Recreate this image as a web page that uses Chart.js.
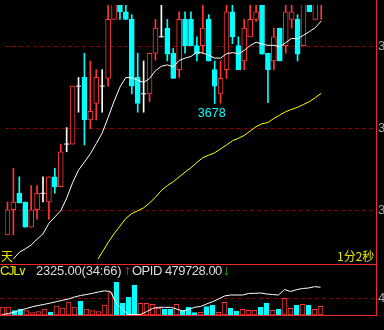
<!DOCTYPE html>
<html><head><meta charset="utf-8">
<script src="https://cdn.jsdelivr.net/npm/chart.js@4/dist/chart.umd.min.js"></script>
<style>
html,body{margin:0;padding:0;background:#000;width:384px;height:330px;overflow:hidden}
body{position:relative}
#main{position:absolute;left:0;top:0;width:384px;height:264px}
#vol{position:absolute;left:0;top:264px;width:384px;height:52px}
.t{position:absolute;white-space:nowrap;font-family:"Liberation Sans",Arial,sans-serif;font-size:13px;line-height:14px}
.cjk{font-family:"Noto Sans CJK SC",sans-serif;font-size:12px;line-height:12px;color:#e6e600}
</style></head><body>
<div id="main"><canvas id="c1"></canvas></div>
<div id="vol"><canvas id="c2"></canvas></div>
<span class="t cjk" style="left:1px;top:250px">天</span>
<span class="t cjk" style="left:337px;top:250px">1分2秒</span>
<span class="t" style="left:0px;top:264px;color:#e6e600;letter-spacing:-1.3px">CJL</span>
<span class="t" style="left:18px;top:264px;color:#e6e600;font-family:'DejaVu Sans';font-size:12px">∨</span>
<span class="t" id="cjlv" style="left:36px;top:264px;color:#dcdcdc;letter-spacing:-0.2px"></span>
<span class="t" style="left:124px;top:263px;color:#ff3030;font-size:14px">↑</span>
<span class="t" id="opidv" style="left:132px;top:264px;color:#dcdcdc;letter-spacing:-0.5px"></span>
<span class="t" style="left:223px;top:263px;color:#20c020;font-size:14px">↓</span>
<script>
// ---- data ----
const minutes = [1,2,3,4,5,6,7,8,9,10,11,12,13,14,15,16,17,18,19,20,21,22,23,24,25,26,27,
28,29,30,31,32,33,34,35,36,37,38,39,40,41,42,43,44,45,46,47,48,49,50,51,52,53,54];
const opens = [3662.00,3665.06,3667.06,3666.00,3662.94,3665.06,3667.06,3666.00,3669.06,3667.88,
3673.06,3673.06,3680.12,3681.18,3676.00,3678.00,3680.12,3681.06,3688.24,3691.41,
3689.18,3688.24,3681.18,3679.18,3679.18,3684.12,3686.12,3687.18,3684.12,3682.12,
3688.24,3688.24,3685.06,3685.06,3688.24,3682.12,3679.18,3682.12,3689.18,3685.06,
3683.18,3686.12,3688.24,3690.59,3684.12,3683.18,3687.18,3685.06,3688.24,3688.24,
3685.06,3690.59,3688.24,3690.35];
const closes = [3665.06,3666.00,3665.88,3662.94,3665.06,3667.06,3667.06,3669.06,3667.88,3672.12,
3673.06,3680.12,3680.12,3676.00,3677.06,3681.18,3680.12,3688.24,3691.18,3689.18,
3688.24,3680.12,3678.00,3679.18,3684.12,3687.18,3686.12,3684.00,3681.06,3688.24,
3685.06,3685.06,3684.00,3687.18,3683.18,3680.12,3681.06,3689.18,3686.12,3682.12,
3687.18,3688.24,3689.18,3684.00,3682.12,3686.12,3683.18,3689.18,3689.18,3684.00,
3690.59,3689.18,3690.59,3691.41];
const highs = [3666.00,3670.12,3669.06,3666.00,3668.00,3668.00,3669.06,3669.06,3670.12,3673.06,
3675.06,3680.12,3681.18,3684.12,3683.18,3682.12,3682.12,3690.59,3691.76,3691.76,
3690.35,3688.82,3684.12,3683.18,3684.12,3688.24,3690.35,3688.24,3684.71,3689.18,
3689.18,3689.18,3686.12,3690.24,3688.82,3683.18,3683.18,3690.35,3690.35,3686.12,
3688.24,3690.24,3690.35,3690.94,3684.12,3687.18,3687.18,3690.35,3690.35,3688.82,
3690.94,3690.94,3690.94,3691.76];
const lows = [3662.00,3662.00,3665.88,3662.94,3662.94,3663.88,3666.00,3663.88,3667.06,3667.88,
3672.12,3673.06,3676.94,3672.94,3674.94,3676.00,3676.94,3680.12,3688.24,3688.24,
3688.24,3679.18,3676.94,3676.94,3678.24,3683.29,3686.12,3683.18,3681.06,3681.18,
3684.12,3685.06,3683.18,3684.12,3683.18,3678.00,3678.05,3681.06,3685.29,3682.12,
3682.12,3686.12,3688.00,3684.00,3678.10,3682.12,3683.18,3684.12,3687.18,3683.18,
3685.06,3689.18,3688.24,3688.24];
const maShort = [3658.00,3659.06,3659.88,3660.29,3660.76,3661.47,3662.12,3663.41,3664.18,3664.94,
3666.47,3668.35,3669.88,3670.86,3671.88,3673.12,3674.41,3676.29,3678.24,3680.00,
3681.18,3681.12,3680.85,3680.55,3681.06,3682.00,3682.53,3682.71,3682.47,3683.24,
3683.53,3683.73,3684.26,3684.14,3683.88,3683.53,3683.53,3684.06,3684.20,3684.06,
3684.47,3685.06,3685.47,3685.24,3685.09,3685.09,3684.91,3685.41,3685.94,3685.88,
3686.32,3686.76,3687.24,3688.06];
const maLong = [null,null,null,null,null,null,null,null,null,null,null,null,null,null,null,
3658.71,3659.88,3661.06,3662.12,3663.06,3664.00,3664.59,3664.94,3665.29,3665.88,
3666.59,3667.41,3668.00,3668.47,3669.06,3669.65,3670.18,3670.82,3671.41,3671.71,
3672.00,3672.47,3672.94,3673.47,3673.76,3674.12,3674.65,3675.18,3675.53,3675.68,
3676.18,3676.59,3677.00,3677.29,3677.53,3677.88,3678.24,3678.71,3679.24];
const volumes = [2160,2160,1160,1620,1160,620,890,1620,810,2430,
1890,3510,2160,3780,1620,1160,890,2700,6020,8830,
3160,4780,8100,3160,3160,2890,1810,1540,1540,2890,
1160,2080,620,730,2240,2700,730,3430,1810,1080,
1540,1270,1270,2080,3240,1270,1540,4510,1810,2620,
2890,2620,1540,2325];
const opid = [450535,451605,453210,455350,456955,458881,460165,461449,462840,464231,
465729,467120,469260,470865,471935,473219,474610,475894,475145,462305,
455885,450535,450321,450535,453531,456955,458239,458239,458239,456420,
454280,455885,458239,459095,461770,464231,467120,470330,471400,471400,
471400,473005,473219,473540,472470,471935,471400,477285,475145,477071,
478355,478890,480281,479728];
const priceTicks = [3665, 3675, 3685];
const volTicks = [4590];
const lowMarkIndex = 35;
const cjlRatio = '(34:66)';

// ---- styles ----
const RED = '#ff3636', CYAN = '#00ffff', WHITE = '#ffffff', YELLOW = '#ffff00';
const BORDER = '#f02828', GRID = '#880000', LABEL = '#a8a8a8';
const SLOT = 6;
const xMin = -2.5 / SLOT, xMax = xMin + 376 / SLOT;
const pxPerPt = 8.5, yMax = 3690, yMin = yMax - 263 / pxPerPt;

const up = i => closes[i] > opens[i];
const doji = i => closes[i] === opens[i];
const cColor = i => doji(i) ? WHITE : (up(i) ? RED : CYAN);

document.getElementById('cjlv').textContent = volumes[volumes.length-1].toFixed(2) + cjlRatio;
document.getElementById('opidv').textContent = 'OPID ' + opid[opid.length-1].toFixed(2);

const bodyIdx = minutes.map((m,i)=>i).filter(i=>!doji(i));
const dojiIdx = minutes.map((m,i)=>i).filter(i=>doji(i));

const mainDeco = {
  id: 'mainDeco',
  beforeDatasetsDraw(chart) {
    const {ctx, chartArea: a, scales: {y}} = chart;
    ctx.save();
    ctx.strokeStyle = GRID; ctx.lineWidth = 1; ctx.setLineDash([4, 3]);
    priceTicks.forEach(v => {
      const py = Math.floor(y.getPixelForValue(v)) + 0.5;
      ctx.beginPath(); ctx.moveTo(a.left, py); ctx.lineTo(a.right, py); ctx.stroke();
    });
    ctx.restore();
  },
  afterDraw(chart) {
    const {ctx, chartArea: a, scales: {x, y}} = chart;
    ctx.save();
    ctx.strokeStyle = BORDER; ctx.lineWidth = 1;
    ctx.beginPath(); ctx.moveTo(a.right + 0.5, 0); ctx.lineTo(a.right + 0.5, chart.height); ctx.stroke();
    ctx.fillStyle = LABEL; ctx.font = '13px "Liberation Sans"';
    ctx.textAlign = 'left'; ctx.textBaseline = 'middle';
    priceTicks.forEach(v => ctx.fillText(String(v), a.right + 2, y.getPixelForValue(v)));
    const px = x.getPixelForValue(lowMarkIndex), py = y.getPixelForValue(lows[lowMarkIndex]);
    ctx.fillStyle = CYAN; ctx.font = '12.5px "Liberation Sans"';
    ctx.textAlign = 'center'; ctx.textBaseline = 'top';
    ctx.fillText(String(Math.round(lows[lowMarkIndex])), px - 3, py + 4);
    ctx.restore();
  }
};

new Chart(document.getElementById('c1'), {
  type: 'bar',
  data: {
    datasets: [
      { type: 'line', label: 'MA short', data: maShort.map((v,i)=>({x:i, y:v})),
        borderColor: WHITE, borderWidth: 1, pointRadius: 0, tension: 0, order: 0 },
      { type: 'line', label: 'MA long', data: maLong.map((v,i)=>({x:i, y:v})),
        borderColor: YELLOW, borderWidth: 1, pointRadius: 0, tension: 0, order: 0 },
      { type: 'line', label: 'doji', data: dojiIdx.map(i=>({x:i, y:closes[i]})),
        showLine: false, pointStyle: 'line', pointRadius: 2.5, pointBorderColor: WHITE,
        pointBorderWidth: 1, order: 1 },
      { label: 'body', data: bodyIdx.map(i=>({x:i, y:[opens[i], closes[i]]})),
        backgroundColor: bodyIdx.map(i=>up(i) ? '#000000' : CYAN),
        borderColor: bodyIdx.map(i=>up(i) ? RED : CYAN),
        borderWidth: 1, borderSkipped: false, barThickness: 5, grouped: false, order: 2 },
      { label: 'wick', data: minutes.map((m,i)=>({x:i, y:[lows[i], highs[i]]})),
        backgroundColor: minutes.map((m,i)=>cColor(i)),
        borderWidth: 0, barThickness: 1, grouped: false, order: 3 }
    ]
  },
  options: {
    responsive: true, maintainAspectRatio: false, animation: false, events: [],
    layout: { padding: { left: 0, right: 8, top: 0, bottom: 1 } },
    plugins: { legend: { display: false }, tooltip: { enabled: false } },
    scales: {
      x: { type: 'linear', min: xMin, max: xMax, offset: false, display: false },
      y: { type: 'linear', min: yMin, max: yMax, display: false }
    }
  },
  plugins: [mainDeco]
});

const volDeco = {
  id: 'volDeco',
  beforeDatasetsDraw(chart) {
    const {ctx, chartArea: a, scales: {y}} = chart;
    ctx.save();
    ctx.strokeStyle = GRID; ctx.lineWidth = 1; ctx.setLineDash([4, 3]);
    volTicks.forEach(v => {
      const py = Math.floor(y.getPixelForValue(v)) + 0.5;
      ctx.beginPath(); ctx.moveTo(a.left, py); ctx.lineTo(a.right, py); ctx.stroke();
    });
    ctx.restore();
  },
  afterDraw(chart) {
    const {ctx, chartArea: a, scales: {y}} = chart;
    ctx.save();
    ctx.strokeStyle = BORDER; ctx.lineWidth = 1;
    ctx.beginPath();
    ctx.moveTo(0, 0.5); ctx.lineTo(a.right + 1, 0.5);
    ctx.moveTo(0, a.bottom + 0.5); ctx.lineTo(a.right + 1, a.bottom + 0.5);
    ctx.moveTo(a.right + 0.5, 0); ctx.lineTo(a.right + 0.5, a.bottom + 1);
    ctx.stroke();
    ctx.fillStyle = LABEL; ctx.font = '13px "Liberation Sans"';
    ctx.textAlign = 'left'; ctx.textBaseline = 'middle';
    volTicks.forEach(v => ctx.fillText(String(v), a.right + 2, y.getPixelForValue(v)));
    ctx.restore();
  }
};

new Chart(document.getElementById('c2'), {
  type: 'bar',
  data: {
    datasets: [
      { type: 'line', label: 'OPID', yAxisID: 'y2', data: opid.map((v,i)=>({x:i, y:v})),
        borderColor: WHITE, borderWidth: 1, pointRadius: 0, tension: 0, order: 0 },
      { label: 'CJL', data: volumes.map((v,i)=>({x:i, y:v})),
        backgroundColor: minutes.map((m,i)=>closes[i] >= opens[i] ? '#000000' : CYAN),
        borderColor: minutes.map((m,i)=>closes[i] >= opens[i] ? RED : CYAN),
        borderWidth: 1, borderSkipped: false, barThickness: 5, grouped: false, order: 1 }
    ]
  },
  options: {
    responsive: true, maintainAspectRatio: false, animation: false, events: [],
    layout: { padding: { left: 0, right: 8, top: 0, bottom: 1 } },
    plugins: { legend: { display: false }, tooltip: { enabled: false } },
    scales: {
      x: { type: 'linear', min: xMin, max: xMax, offset: false, display: false },
      y: { type: 'linear', min: 0, max: 51 * 270, display: false },
      y2: { type: 'linear', min: 450000, max: 450000 + 51 * 1070, display: false }
    }
  },
  plugins: [volDeco]
});
</script>
</body></html>
